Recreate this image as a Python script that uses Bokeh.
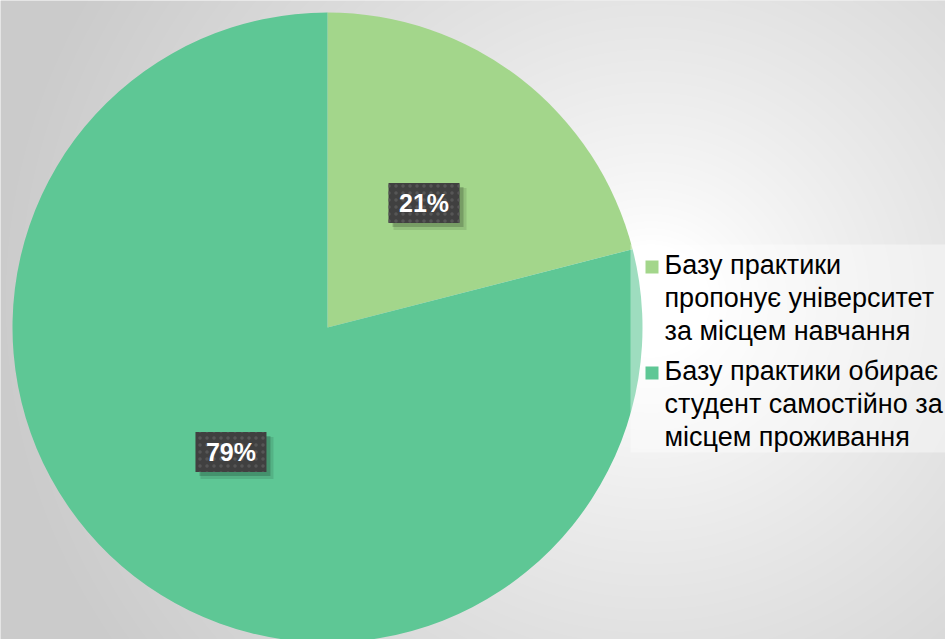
import numpy as np
from bokeh.plotting import figure
from bokeh.models import Range1d, ColumnDataSource
from bokeh.core.properties import value
from bokeh.embed import file_html
from bokeh.resources import INLINE

# ---- data ----
categories = [
    "Базу практики\nпропонує університет\nза місцем навчання",
    "Базу практики обирає\nстудент самостійно за\nмісцем проживання",
]
values = [21, 79]
colors = ["#A3D68B", "#5EC795"]

# ---- layout ----
W, H = 945, 639
CX, CY, R = 327, 312, 315
FONT = value("Liberation Sans")

p = figure(width=W, height=H, x_range=Range1d(0, W), y_range=Range1d(0, H),
           output_backend="svg", toolbar_location=None, min_border=0)
p.axis.visible = False
p.grid.visible = False
p.outline_line_color = None
p.background_fill_color = "#e0e0e0"
p.border_fill_color = "#e0e0e0"

# background radial gradient (decoration)
yy, xx = np.mgrid[0:H, 0:W].astype(float)
X = xx
Y = (H - 1) - yy
d = np.sqrt((X - 650) ** 2 + ((Y - 300) * 1.05) ** 2)
t = np.clip((d - 60) / 600, 0, 1) ** 0.8
b = (255 - 52 * t).astype(np.uint32)
img = (255 << 24) | (b << 16) | (b << 8) | b
p.image_rgba(image=[img.astype(np.uint32)], x=0, y=0, dw=W, dh=H, level="image")

# pie
total = float(sum(values))
cum = np.concatenate([[0], np.cumsum(values)])
start = np.pi / 2 - 2 * np.pi * cum[:-1] / total
end = np.pi / 2 - 2 * np.pi * cum[1:] / total
mid = (start + end) / 2
lx = CX + 0.5 * R * np.cos(mid)
ly = CY + 0.5 * R * np.sin(mid)
src = ColumnDataSource(dict(start=start, end=end, color=colors,
                            lx=lx, ly=ly, sx=lx + 4, sy=ly - 4,
                            sx2=lx + 6, sy2=ly - 6,
                            label=[f"{v}%" for v in values]))
p.wedge(x=CX, y=CY, radius=R, start_angle="start", end_angle="end",
        direction="clock", fill_color="color", line_color=None, source=src)

# legend background (semi-transparent)
p.quad(left=630, right=W, bottom=187, top=395, fill_color="white",
       fill_alpha=0.4, line_color=None)

# data labels
p.rect(x="sx2", y="sy2", width=73, height=42, width_units="screen", height_units="screen",
       fill_color="black", fill_alpha=0.10, line_color=None, source=src)
p.rect(x="sx", y="sy", width=71, height=40, width_units="screen", height_units="screen",
       fill_color="black", fill_alpha=0.18, line_color=None, source=src)
p.rect(x="lx", y="ly", width=71, height=40, width_units="screen", height_units="screen",
       fill_color="#404040", line_color=None, hatch_pattern="dot",
       hatch_color="#565656", hatch_scale=7, hatch_weight=2, source=src)
p.text(x="lx", y="ly", text="label", text_font=FONT, text_font_style="bold",
       text_font_size="25px", text_color="white", text_align="center",
       text_baseline="middle", source=src)

# legend
leg_top, line_h, gap = 390, 30, 16
ty, sq_y = [], []
top = leg_top
for c in categories:
    ty.append(top)
    sq_y.append(top - 17.5)
    top -= (c.count("\n") + 1) * line_h + gap
lsrc = ColumnDataSource(dict(text=categories, ty=ty, sq=sq_y, color=colors))
p.rect(x=651.5, y="sq", width=13, height=13, width_units="screen", height_units="screen",
       fill_color="color", line_color=None, source=lsrc)
p.text(x=664, y="ty", text="text", text_font=FONT, text_font_size="27px",
       text_color="#000000", text_align="left", text_baseline="top",
       text_line_height=30 / 27, source=lsrc)

html = file_html(p, INLINE)
open("out.html", "w").write(html)
